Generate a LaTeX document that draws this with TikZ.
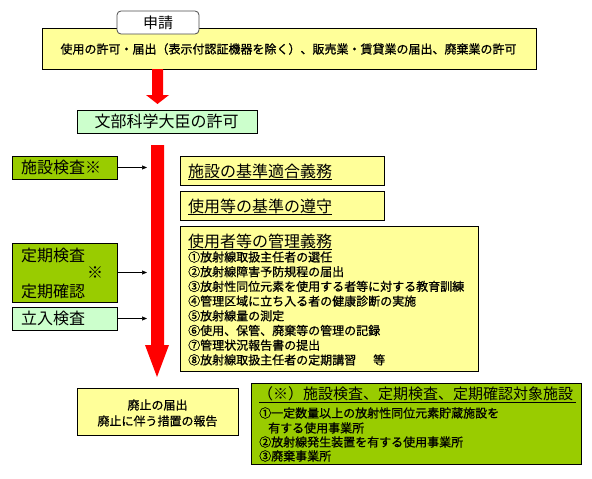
\documentclass[tikz,border=0pt]{standalone}
\usepackage{fontspec}
\setmainfont{Noto Sans CJK JP}
\newfontfamily\semibold[FakeBold=0.8]{Noto Sans CJK JP}
\usetikzlibrary{arrows.meta}
\definecolor{ylw}{HTML}{FFFF99}
\definecolor{lgrn}{HTML}{CCFFCC}
\definecolor{olv}{HTML}{99CC00}
\definecolor{arrred}{HTML}{FF0000}
\newcommand\myfs[1]{\fontsize{#1}{#1}\selectfont}
\begin{document}
\begin{tikzpicture}[x=1pt,y=-1pt,
  box/.style={draw=black,line width=0.8pt,inner sep=0pt},
  txt/.style={inner sep=0pt,anchor=west},
  ctxt/.style={inner sep=0pt,anchor=center},
  big/.style={font=\myfs{16pt}},
  mid/.style={font=\myfs{15pt}},
  small/.style={font=\semibold\myfs{12pt}},
  uline/.style={draw=black,line width=0.6pt},
  redarrow/.style={fill=arrred,draw=none},
  link/.style={draw=black,line width=0.6pt,-{Triangle[length=5pt,width=4pt]}}
]
\useasboundingbox (0,0) rectangle (592,479);

% top application box
\node[box,fill=ylw,minimum width=494pt,minimum height=41pt] (apply) at (289,48.5) {};
\node[ctxt,small] (applytxt) at (288.5,49) {使用の許可・届出（表示付認証機器を除く）、販売業・賃貸業の届出、廃棄業の許可};
% tab
\node[draw=black!70,line width=0.8pt,fill=white,rounded corners=4pt,minimum width=82pt,minimum height=23pt,inner sep=0pt] (tab) at (158,22.5) {};
\node[ctxt,mid] (tabtxt) at (158,22.5) {申請};

% top red arrow
\path[redarrow] (152,69) -- (163,69) -- (163,95) -- (169,95) -- (157.5,104) -- (146,95) -- (152,95) -- cycle;

% minister box
\node[box,fill=lgrn,minimum width=180pt,minimum height=23pt] (minister) at (167,121.5) {};
\node[ctxt,big] (ministertxt) at (166.5,121.5) {文部科学大臣の許可};

% long red arrow
\path[redarrow] (151,145) -- (164,145) -- (164,345) -- (169,345) -- (157,377) -- (145,345) -- (151,345) -- cycle;
\coordinate (shaftL) at (147,200);

% left boxes
\node[box,fill=olv,minimum width=105pt,minimum height=23pt] (shisetsu) at (64.5,167.5) {};
\node[txt,big] (shisetsutxt) at (21,167.5) {施設検査※};
\node[box,fill=olv,minimum width=105pt,minimum height=59pt] (teiki) at (64.5,272.5) {};
\node[txt,big] (teiki1) at (21,255) {定期検査};
\node[ctxt,big] (teiki2) at (95,273) {※};
\node[txt,big] (teiki3) at (21,291) {定期確認};
\node[box,fill=lgrn,minimum width=105pt,minimum height=23pt] (tachiiri) at (64.5,318.5) {};
\node[txt,big] (tachiiritxt) at (21,318.5) {立入検査};

\draw[link] (shisetsu.east) -- (shisetsu.east -| shaftL);
\draw[link] (teiki.east) -- (teiki.east -| shaftL);
\draw[link] (tachiiri.east) -- (tachiiri.east -| shaftL);

% right duty boxes
\node[box,fill=ylw,minimum width=204pt,minimum height=29pt] (kijun) at (282,170.5) {};
\node[txt,big] (kijuntxt) at (188,171.5) {施設の基準適合義務};
\draw[uline] ([yshift=-7.5pt]kijuntxt.west) -- ([yshift=-7.5pt]kijuntxt.east);
\node[box,fill=ylw,minimum width=204pt,minimum height=29pt] (junshu) at (282,205.5) {};
\node[txt,big] (junshutxt) at (188,206.5) {使用等の基準の遵守};
\draw[uline] ([yshift=-7.5pt]junshutxt.west) -- ([yshift=-7.5pt]junshutxt.east);

\node[box,fill=ylw,minimum width=298pt,minimum height=145pt] (kanri) at (329,298.5) {};
\node[txt,big] (kanritxt) at (188,241.5) {使用者等の管理義務};
\draw[uline] ([yshift=-7.5pt]kanritxt.west) -- ([yshift=-7.5pt]kanritxt.east);
\node[txt,small] (k1) at (188,257) {①放射線取扱主任者の選任};
\node[txt,small] (k2) at (188,271.7) {②放射線障害予防規程の届出};
\node[txt,small] (k3) at (188,286.4) {③放射性同位元素を使用する者等に対する教育訓練};
\node[txt,small] (k4) at (188,301.1) {④管理区域に立ち入る者の健康診断の実施};
\node[txt,small] (k5) at (188,315.8) {⑤放射線量の測定};
\node[txt,small] (k6) at (188,330.5) {⑥使用、保管、廃棄等の管理の記録};
\node[txt,small] (k7) at (188,345.2) {⑦管理状況報告書の提出};
\node[txt,small] (k8) at (188,359.9) {⑧放射線取扱主任者の定期講習\hspace{17pt}等};

% abolition box
\node[box,fill=ylw,minimum width=161pt,minimum height=47pt] (haishi) at (157.5,411.5) {};
\node[ctxt,small] (haishi1) at (157.5,405) {廃止の届出};
\node[ctxt,small] (haishi2) at (157.5,421) {廃止に伴う措置の報告};

% target facilities box
\node[box,fill=olv,minimum width=330pt,minimum height=81pt] (taisho) at (416,423.5) {};
\node[txt,mid] (taishotxt) at (258,393.5) {（※）施設検査、定期検査、定期確認対象施設};
\draw[uline] (259,402) -- (576,402);
\node[txt,small] (t1) at (259,413) {①一定数量以上の放射性同位元素貯蔵施設を};
\node[txt,small] (t1b) at (268,428) {有する使用事業所};
\node[txt,small] (t2) at (259,442) {②放射線発生装置を有する使用事業所};
\node[txt,small] (t3) at (259,456) {③廃棄事業所};
\end{tikzpicture}
\end{document}
